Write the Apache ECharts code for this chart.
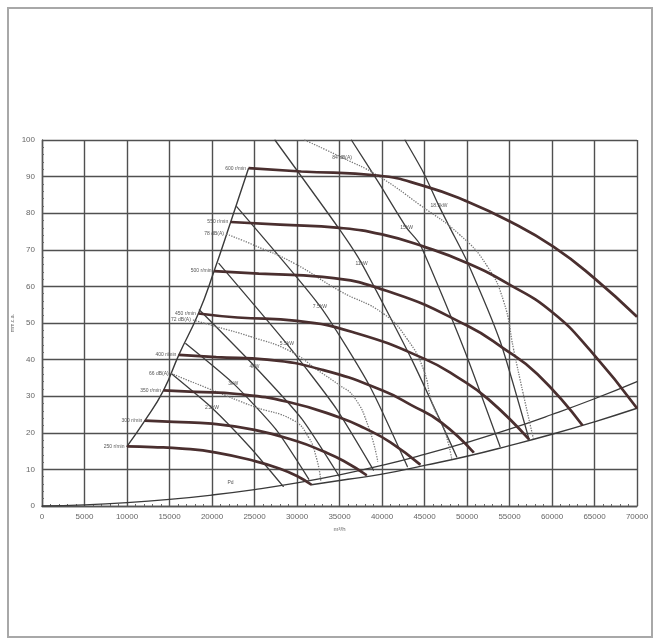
<!DOCTYPE html>
<html>
<head>
<meta charset="utf-8">
<script src="https://cdn.jsdelivr.net/npm/echarts@6/dist/echarts.min.js"></script>
<style>
	html, body { margin: 0; padding: 0; background: #fff; }
	#frame { position: absolute; left: 7px; top: 7px; width: 642px; height: 627px; border: 2px solid #a8a8a8; }
	#chart { position: absolute; left: 0; top: 0; width: 659px; height: 644px; }
</style>
</head>
<body>
<div id="frame"></div>
<div id="chart"></div>
<script>
// 刻度
const xTicks = [0, 5000, 10000, 15000, 20000, 25000, 30000, 35000, 40000, 45000, 50000, 55000, 60000, 65000, 70000];
const yTicks = [0, 10, 20, 30, 40, 50, 60, 70, 80, 90, 100];

// 转速曲线 (m3/h, mm.c.a.)
const rpmNames = ["250 r/min", "300 r/min", "350 r/min", "400 r/min", "450 r/min", "500 r/min", "550 r/min", "600 r/min"];
const rpm250 = [[10000, 16.3], [13000, 16.1], [16500, 15.7], [20500, 14.6], [25000, 12.3], [28000, 10.2], [30000, 8.2], [31700, 5.8]];
const rpm300 = [[12100, 23.3], [15500, 23], [20000, 22.5], [25000, 20.8], [30000, 17.7], [33000, 15], [35500, 12.3], [38200, 8.4]];
const rpm350 = [[14300, 31.6], [18000, 31.2], [23000, 30.6], [29000, 28.4], [35000, 24.2], [38000, 21.2], [41000, 17.4], [44500, 11.3]];
const rpm400 = [[16100, 41.3], [20500, 40.7], [26500, 40], [33000, 37.2], [40000, 31.6], [43500, 27.5], [47000, 22.8], [50800, 14.6]];
const rpm450 = [[18400, 52.6], [23000, 51.5], [30000, 50.6], [37000, 47.2], [45000, 40.2], [49000, 35], [52500, 29.2], [57300, 18.2]];
const rpm500 = [[20250, 64.2], [25500, 63.5], [33000, 62.6], [41300, 58.2], [50000, 49.3], [54200, 43.2], [58300, 36], [63600, 22]];
const rpm550 = [[22200, 77.6], [28000, 76.9], [35000, 76], [40000, 74.2], [45000, 70.8], [50000, 66.4], [55000, 60.5], [60000, 53], [64500, 42.5], [70000, 26.7]];
const rpm600 = [[24300, 92.3], [30500, 91.4], [39500, 90.3], [45000, 87.4], [49600, 83.6], [55000, 77.8], [60200, 70.8], [65000, 62.2], [70000, 51.7]];

// 边界线
const stallLine = [[10000, 16.3], [12100, 23.3], [14300, 31.6], [16100, 41.3], [18400, 52.6], [20250, 64.2], [22200, 77.6], [24300, 92.3]];
const limitLine = [[31700, 5.8], [36000, 7.3], [40000, 8.7], [45000, 11.1], [50000, 13.6], [55000, 16.5], [60000, 19.6], [65000, 23], [70000, 26.7]];
const pdLine = [[0, 0], [5000, 0.3], [10000, 0.9], [15000, 1.8], [20000, 3], [25000, 4.5], [30000, 6.3], [35000, 8.5], [40000, 11.1], [45000, 14.1], [50000, 17.4], [55000, 21], [60000, 25], [65000, 29.3], [70000, 34]];

// 噪声线 dB(A)
const dbNames = ["66 dB(A)", "72 dB(A)", "78 dB(A)", "84 dB(A)"];
const db66 = [[15200, 36.2], [20000, 31.7], [25000, 27.1], [29500, 23.5], [31300, 19], [32300, 13], [32800, 7]];
const db72 = [[17800, 50.8], [20500, 49], [24500, 46.3], [29200, 42.3], [32500, 37], [35000, 33], [36700, 29.8], [38400, 21.7], [39500, 12.2]];
const db78 = [[21700, 74.3], [24900, 71.3], [29600, 66.4], [35000, 58.8], [40200, 52.5], [43000, 45.5], [44900, 37.2], [45900, 28.1], [47300, 21], [48200, 13]];
const db84 = [[30900, 100], [35300, 95.2], [39400, 90.4], [44500, 82.2], [49200, 74], [52300, 65.8], [54300, 56], [55500, 42.6], [56600, 30.8], [57800, 18.5]];

// 功率线 kW
const kwNames = ["2.2kW", "3kW", "4kW", "5.5kW", "7.5kW", "11kW", "15kW", "18.5kW"];
const kw22 = [[15200, 36.2], [20000, 26.8], [24500, 16], [28400, 5.3]];
const kw3 = [[16900, 44.4], [22500, 33.5], [27500, 21], [31400, 7.3]];
const kw4 = [[18500, 53.6], [25000, 38.2], [30500, 24], [35000, 8]];
const kw55 = [[20800, 66.3], [28800, 44.3], [34500, 27], [39000, 9.8]];
const kw75 = [[22900, 81.8], [32700, 54.6], [38500, 33], [43000, 10.7]];
const kw11 = [[27400, 100], [34900, 75.9], [37600, 66.3], [43500, 40], [48800, 13.4]];
const kw15 = [[36400, 100], [39700, 88], [42900, 76], [44500, 71.4], [49600, 43.2], [53900, 16.2]];
const kw185 = [[42700, 100], [44900, 91], [46700, 82], [48000, 76], [50000, 66.9], [53900, 45], [57300, 18.2]];
const kwLabelAt = [1, 1, 1, 1, 1, 2, 2, 2];

const chart = echarts.init(document.getElementById("chart"));

const smallText = { fontSize: 5, color: "#555", fontFamily: "Liberation Sans" };

// 给某一点加标签
function withLabel(points, idx, text, pos) {
	return points.map((p, i) => (i === idx ? { value: p, label: { show: true, formatter: text, position: pos, distance: 2, ...smallText } } : p));
}

function lineSeries(data, style, extra) {
	return Object.assign(
		{
			type: "line",
			data: data,
			smooth: true,
			symbol: "circle",
			symbolSize: 1,
			showSymbol: true,
			showAllSymbol: true,
			itemStyle: { color: style.color },
			silent: true,
			clip: true,
			lineStyle: style,
		},
		extra || {},
	);
}

const rpmCurves = [rpm250, rpm300, rpm350, rpm400, rpm450, rpm500, rpm550, rpm600];
const dbCurves = [db66, db72, db78, db84];
const kwCurves = [kw22, kw3, kw4, kw55, kw75, kw11, kw15, kw185];

const series = [];
series.push(lineSeries(stallLine, { color: "#3a3a3a", width: 1.4 }));
series.push(lineSeries(limitLine, { color: "#3a3a3a", width: 1.4 }));
series.push(lineSeries(withLabel(pdLine, 4, "Pd", [16, -14]), { color: "#3a3a3a", width: 1.3 }));

kwCurves.forEach((c, i) => {
	series.push(lineSeries(withLabel(c, kwLabelAt[i], kwNames[i], "inside"), { color: "#3d3d3d", width: 1.3 }, { smooth: 0.2 }));
});
dbCurves.forEach((c, i) => {
	series.push(lineSeries(withLabel(c, i === 3 ? 1 : 0, dbNames[i], i === 3 ? "inside" : "left"), { color: "#777", width: 1.3, type: "dotted" }));
});
rpmCurves.forEach((c, i) => {
	series.push(lineSeries(withLabel(c, 0, rpmNames[i], "left"), { color: "#4a2f2f", width: 2.7 }));
});

const option = {
	animation: false,
	backgroundColor: "transparent",
	grid: { left: 42, right: 22, top: 140, bottom: 138, containLabel: false, outerBoundsMode: "none" },
	xAxis: {
		type: "value",
		min: 0,
		max: 70000,
		interval: 5000,
		name: "m³/h",
		nameLocation: "middle",
		nameGap: 17,
		nameTextStyle: { fontSize: 6, color: "#666", fontFamily: "Liberation Sans" },
		axisLine: { show: true, lineStyle: { color: "#555", width: 1.4 } },
		axisTick: { show: true, inside: true, length: 3, lineStyle: { color: "#555" } },
		minorTick: { show: true, splitNumber: 5, length: 2, lineStyle: { color: "#666" } },
		axisLabel: { fontSize: 8, color: "#666", margin: 7, fontFamily: "Liberation Sans", formatter: (v) => (xTicks.includes(v) ? String(v) : "") },
		splitLine: { show: true, lineStyle: { color: "#505050", width: 1.4 } },
	},
	yAxis: {
		type: "value",
		min: 0,
		max: 100,
		interval: 10,
		name: "mm.c.a.",
		nameLocation: "middle",
		nameRotate: 90,
		nameGap: 27,
		nameMoveOverlap: false,
		nameTextStyle: { fontSize: 5, color: "#666", fontFamily: "Liberation Sans" },
		axisLine: { show: true, lineStyle: { color: "#555", width: 1.4 } },
		axisTick: { show: true, inside: true, length: 3, lineStyle: { color: "#555" } },
		minorTick: { show: true, splitNumber: 5, length: 2, lineStyle: { color: "#666" } },
		axisLabel: { fontSize: 8, color: "#666", margin: 7, fontFamily: "Liberation Sans", formatter: (v) => (yTicks.includes(v) ? String(v) : "") },
		splitLine: { show: true, lineStyle: { color: "#505050", width: 1.4 } },
	},
	series: series,
};

chart.setOption(option);
</script>
</body>
</html>
